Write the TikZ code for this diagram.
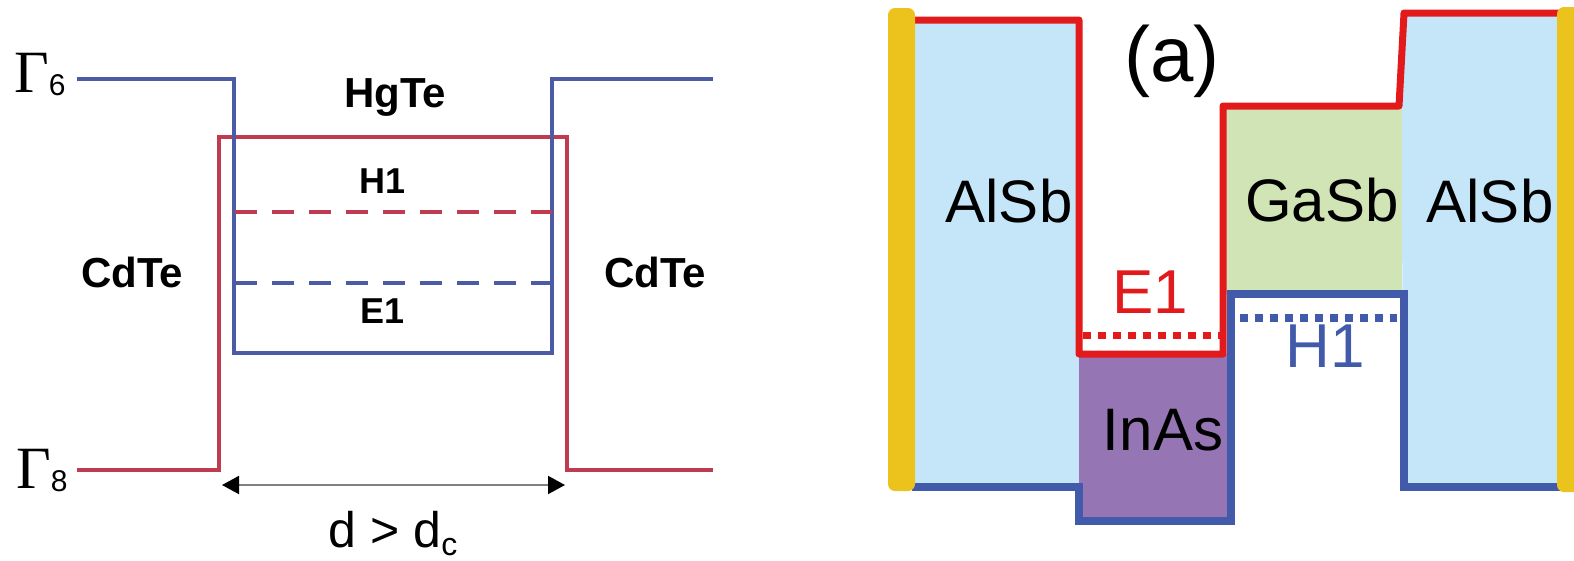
\documentclass[tikz,border=0pt]{standalone}
\usepackage{fontspec}
\newfontfamily\arial{Liberation Sans}
\newfontfamily\tms{Liberation Serif}
\usetikzlibrary{arrows.meta}
\definecolor{lblue}{HTML}{4C5BA6}
\definecolor{lred}{HTML}{BF3B4F}
\definecolor{rred}{HTML}{E31A1C}
\definecolor{rblue}{HTML}{415AAA}
\definecolor{skyfill}{HTML}{C5E6F9}
\definecolor{greenfill}{HTML}{D1E4B5}
\definecolor{purplefill}{HTML}{9575B4}
\definecolor{yel}{HTML}{ECC31C}
\begin{document}
\begin{tikzpicture}[x=1pt,y=-1pt,
  lab/.style={inner sep=0pt, anchor=base},
  boldlab/.style={lab, font=\arial\bfseries\fontsize{42}{50}\selectfont},
  smallbold/.style={lab, font=\arial\bfseries\fontsize{36}{42}\selectfont},
  biglab/.style={lab, font=\arial\fontsize{60}{70}\selectfont},
  leftline/.style={line width=4pt},
  rightline/.style={line width=7pt, line join=round},
]
\useasboundingbox (0,0) rectangle (1574,560);

% ---------- left diagram ----------
\draw[leftline, lred] (77,470) -- (219,470) -- (219,137) -- (567,137) -- (567,470) -- (713,470);
\draw[leftline, lblue] (77,79) -- (234,79) -- (234,353) -- (552,353) -- (552,79) -- (713,79);
\draw[leftline, lred, dash pattern=on 22pt off 15pt] (235,212) -- (552,212);
\draw[leftline, lblue, dash pattern=on 22pt off 15pt] (235,283) -- (552,283);

\node[lab, anchor=base west, font=\tms\fontsize{60}{70}\selectfont] (g6) at (14,92)
  {Γ\raisebox{-3pt}{\arial\fontsize{30}{34}\selectfont 6}};
\node[lab, anchor=base west, font=\tms\fontsize{60}{70}\selectfont] (g8) at (16,488)
  {Γ\raisebox{-3pt}{\arial\fontsize{30}{34}\selectfont 8}};

\node[boldlab] (hgte) at (395,107) {HgTe};
\node[smallbold] (h1l) at (383,193) {H1};
\node[smallbold] (e1l) at (383,323) {E1};
\node[boldlab] (cdtel) at (132,287) {CdTe};
\node[boldlab] (cdter) at (655,287) {CdTe};

\coordinate (al) at (222,485);
\coordinate (ar) at (565,485);
\draw[line width=2pt, gray,
  {Triangle[length=17pt,width=18pt,color=black]}-{Triangle[length=17pt,width=18pt,color=black]}]
  (al) -- (ar);
\node[lab, font=\arial\fontsize{50}{60}\selectfont] (dd) at (393,547)
  {d > d\raisebox{-8pt}{\fontsize{32}{36}\selectfont c}};

% ---------- right diagram ----------
\fill[skyfill] (915,20) rectangle (1079,487);
\fill[purplefill] (1079,354) rectangle (1231,521);
\fill[skyfill] (1401,106) -- (1404,13) -- (1560,13) -- (1560,487) -- (1404,487) -- cycle;
\fill[greenfill] (1223,106) rectangle (1402,294);

\draw[rightline, rred] (912,20) -- (1079,20) -- (1079,354) -- (1223,354) -- (1223,106)
  -- (1399,106) -- (1404,13) -- (1560,13);
\draw[line width=8pt, rblue] (912,487) -- (1079,487) -- (1079,521) -- (1231,521)
  -- (1231,294) -- (1404,294) -- (1404,487) -- (1560,487);

\draw[line width=7pt, rred, dash pattern=on 7.5pt off 7.5pt] (1083,335) -- (1220,335);
\draw[line width=8pt, rblue, dash pattern=on 8pt off 7pt] (1240,318) -- (1397,318);

\fill[yel, rounded corners=7pt] (888,8) rectangle (915,491);
\fill[yel, rounded corners=7pt] (1557,7) rectangle (1584,492);

\node[lab, font=\arial\fontsize{78}{90}\selectfont] (a) at (1172,81) {(a)};
\node[biglab] (alsbl) at (1009,222) {AlSb};
\node[biglab] (gasb) at (1322,221) {GaSb};
\node[biglab] (alsbr) at (1490,222) {AlSb};
\node[biglab] (inas) at (1163,450) {InAs};
\node[biglab, font=\arial\fontsize{62}{70}\selectfont, text=rred] (e1r) at (1150,313) {E1};
\node[biglab, font=\arial\fontsize{62}{70}\selectfont, text=rblue] (h1r) at (1325,367) {H1};
\end{tikzpicture}
\end{document}
